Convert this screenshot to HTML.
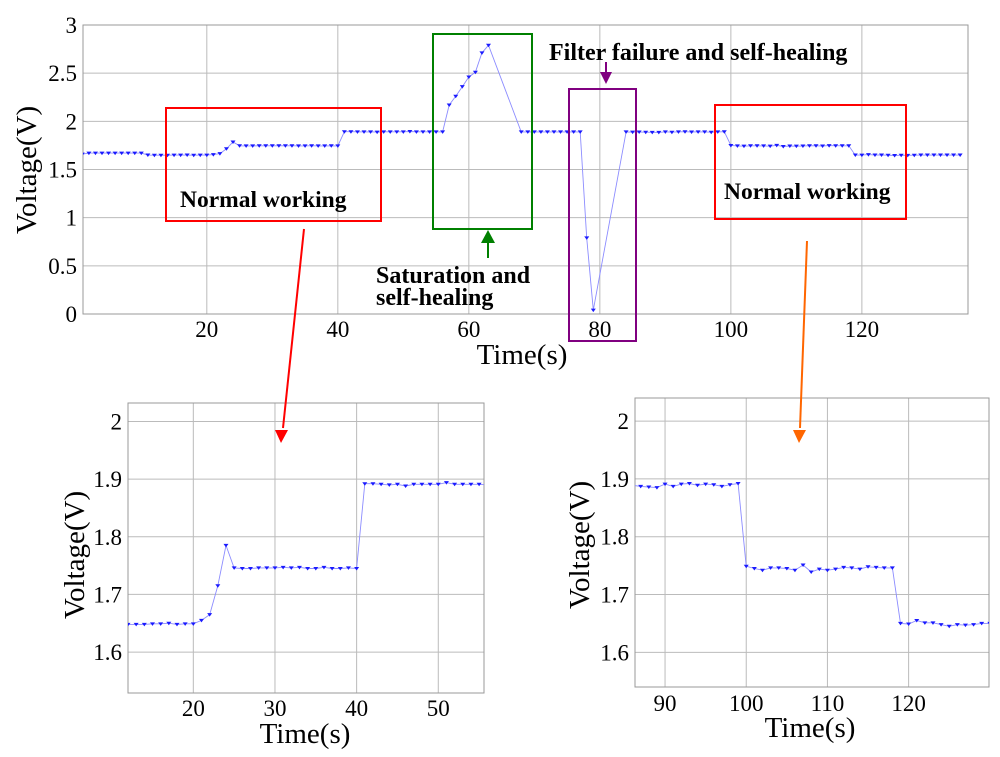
<!DOCTYPE html>
<html><head><meta charset="utf-8"><style>
html,body{margin:0;padding:0;background:#fff;width:1000px;height:757px;overflow:hidden;position:relative}
svg{display:block;font-family:"Liberation Serif",serif}
</style></head><body>
<svg id="s" width="1000" height="757" viewBox="0 0 1000 757" style="position:absolute;left:0;top:0" xmlns="http://www.w3.org/2000/svg">
<defs>
<clipPath id="c0"><rect x="83" y="25" width="885" height="289"/></clipPath>
<clipPath id="c1"><rect x="128" y="403" width="356" height="290"/></clipPath>
<clipPath id="c2"><rect x="635" y="398" width="354" height="289"/></clipPath>
</defs>
</svg>
<script>
// Data
const times=[1,2,3,4,5,6,7,8,9,10,11,12,13,14,15,16,17,18,19,20,21,22,23,24,25,26,27,28,29,30,31,32,33,34,35,36,37,38,39,40,41,42,43,44,45,46,47,48,49,50,51,52,53,54,55,56,57,58,59,60,61,62,63,68,69,70,71,72,73,74,75,76,77,78,79,84,85,86,87,88,89,90,91,92,93,94,95,96,97,98,99,100,101,102,103,104,105,106,107,108,109,110,111,112,113,114,115,116,117,118,119,120,121,122,123,124,125,126,127,128,129,130,131,132,133,134,135,136];
const volts=[1.66,1.67,1.67,1.67,1.67,1.67,1.67,1.67,1.67,1.67,1.65,1.648,1.648,1.648,1.649,1.649,1.65,1.648,1.649,1.649,1.655,1.665,1.715,1.785,1.746,1.745,1.745,1.746,1.746,1.746,1.747,1.746,1.747,1.745,1.745,1.747,1.745,1.745,1.746,1.745,1.892,1.892,1.891,1.89,1.891,1.888,1.891,1.891,1.891,1.891,1.894,1.891,1.891,1.891,1.891,1.89,2.17,2.26,2.36,2.46,2.51,2.71,2.79,1.89,1.89,1.89,1.89,1.89,1.89,1.89,1.89,1.89,1.89,0.79,0.04,1.89,1.888,1.889,1.887,1.886,1.885,1.891,1.887,1.891,1.892,1.889,1.891,1.89,1.887,1.89,1.892,1.749,1.745,1.742,1.746,1.746,1.745,1.742,1.751,1.739,1.744,1.742,1.744,1.747,1.746,1.744,1.748,1.747,1.746,1.746,1.65,1.649,1.655,1.651,1.651,1.648,1.645,1.648,1.647,1.648,1.65,1.65,1.65,1.65,1.65,1.65,1.65];
const topXTicks=[20,40,60,80,100,120];
const topYTicks=[0,0.5,1,1.5,2,2.5,3];
const zoom1XTicks=[20,30,40,50];
const zoom2XTicks=[90,100,110,120];
const zoomYTicks=[1.6,1.7,1.8,1.9,2];

const S=document.getElementById('s');
const NS='http://www.w3.org/2000/svg';
function el(tag,attrs,parent){const e=document.createElementNS(NS,tag);for(const k in attrs)e.setAttribute(k,attrs[k]);(parent||S).appendChild(e);return e;}

function plot(cfg){
  const g=el('g',{});
  
  
  const sx=v=>cfg.x0+(v-cfg.xmin)/(cfg.xmax-cfg.xmin)*(cfg.x1-cfg.x0);
  const sy=v=>cfg.y1-(v-cfg.ymin)/(cfg.ymax-cfg.ymin)*(cfg.y1-cfg.y0);
  cfg.xt.forEach(t=>{
    const l=el('line',{x1:sx(t),x2:sx(t),y1:cfg.y0,y2:cfg.y1,stroke:'#bbbbbb','stroke-width':1},g);
    
    
    const tx=el('text',{x:sx(t),y:cfg.y1+cfg.xlOff,'font-size':cfg.fs,'text-anchor':'middle',fill:'#000'},g);
    tx.textContent=t;
    
    
  });
  cfg.yt.forEach(t=>{
    const l=el('line',{x1:cfg.x0,x2:cfg.x1,y1:sy(t),y2:sy(t),stroke:'#bbbbbb','stroke-width':1},g);
    
    
    const tx=el('text',{x:cfg.x0-6,y:sy(t)+8,'font-size':cfg.fs,'text-anchor':'end',fill:'#000'},g);
    tx.textContent=t;
    
    
  });
  const fr=el('rect',{x:cfg.x0,y:cfg.y0,width:cfg.x1-cfg.x0,height:cfg.y1-cfg.y0,fill:'none',stroke:'#999','stroke-width':1},g);
  
  
  const cg=el('g',{'clip-path':'url(#'+cfg.clip+')'},g);
  let d='';
  times.forEach((t,i)=>{d+=(i?'L':'M')+sx(t).toFixed(1)+','+sy(volts[i]).toFixed(1);});
  const p=el('path',{d:d,fill:'none',stroke:'#8c8cff','stroke-width':0.9},cg);
  
  
  times.forEach((t,i)=>{
    const x=sx(t),y=sy(volts[i]);
    const m=el('path',{d:`M${x-2.5},${y-1.5}L${x+2.5},${y-1.5}L${x},${y+2}Z`,fill:'#1a1aff'},cg);
    
    
  });
  const xl=el('text',{x:cfg.xlx,y:cfg.xly,'font-size':cfg.lfs,'text-anchor':'middle'},g);
  xl.textContent='Time(s)';
  
  
  const yl=el('text',{x:0,y:0,'font-size':cfg.lfs,'text-anchor':'middle',transform:`translate(${cfg.ylx},${cfg.yly}) rotate(-90)`},g);
  yl.textContent='Voltage(V)';
  
  
}
plot({name:'overview-chart',x0:83,x1:968,y0:25,y1:314,xmin:1.1,xmax:136.2,ymin:0,ymax:3,xt:topXTicks,yt:topYTicks,clip:'c0',fs:23,lfs:29,xlOff:23,xlx:522,xly:364,ylx:36,yly:170});
plot({name:'zoom-chart-left',x0:128,x1:484,y0:403,y1:693,xmin:12,xmax:55.6,ymin:1.529,ymax:2.032,xt:zoom1XTicks,yt:zoomYTicks,clip:'c1',fs:23,lfs:29,xlOff:23,xlx:305,xly:743,ylx:84,yly:555});
plot({name:'zoom-chart-right',x0:635,x1:989,y0:398,y1:687,xmin:86.3,xmax:129.9,ymin:1.54,ymax:2.04,xt:zoom2XTicks,yt:zoomYTicks,clip:'c2',fs:23,lfs:29,xlOff:24,xlx:810,xly:737,ylx:589,yly:545});
</script>
<svg width="1000" height="757" style="position:absolute;left:0;top:0" font-family="Liberation Serif, serif" font-weight="bold">
<rect x="166" y="108" width="215" height="113" fill="none" stroke="#ff0000" stroke-width="2"/>
<text x="180" y="207" font-size="23.5">Normal working</text>
<rect x="433" y="34" width="99" height="195" fill="none" stroke="#008000" stroke-width="2"/>
<line x1="488" y1="258" x2="488" y2="240" stroke="#008000" stroke-width="2"/>
<path d="M481,243L495,243L488,230Z" fill="#008000"/>
<text x="376" y="283" font-size="24">Saturation  and</text>
<text x="376" y="305" font-size="24">self-healing</text>
<rect x="569" y="89" width="67" height="252" fill="none" stroke="#800080" stroke-width="2"/>
<text x="549" y="60" font-size="24">Filter failure and self-healing</text>
<line x1="606" y1="62" x2="606" y2="76" stroke="#800080" stroke-width="2"/>
<path d="M600,72L612,72L606,84Z" fill="#800080"/>
<rect x="715" y="105" width="191" height="114" fill="none" stroke="#ff0000" stroke-width="2"/>
<text x="724" y="199" font-size="23.5">Normal working</text>
<line x1="304" y1="229" x2="283" y2="428" stroke="#ff0000" stroke-width="2"/>
<path d="M275,430L288,430L281,443Z" fill="#ff0000"/>
<line x1="807" y1="241" x2="800" y2="428" stroke="#ff6600" stroke-width="2"/>
<path d="M793,430L806,430L799,443Z" fill="#ff6600"/>
</svg>
</body></html>
